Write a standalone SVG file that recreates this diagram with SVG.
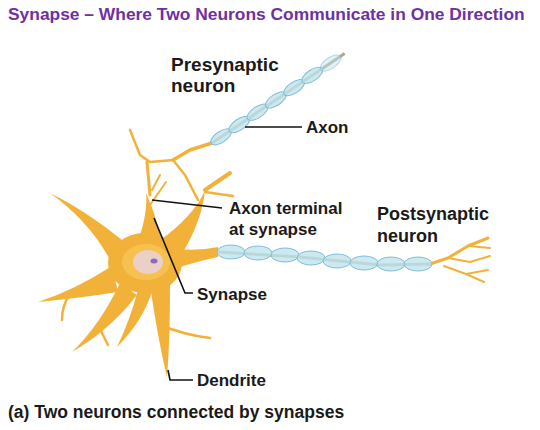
<svg xmlns="http://www.w3.org/2000/svg" width="540" height="430" viewBox="0 0 540 430">
<style>
.t{font-family:"Liberation Sans",Arial,sans-serif;font-weight:bold;fill:#1a1a1a;font-size:17px}
.d{fill:none;stroke:#F2B23A;stroke-linecap:round;stroke-linejoin:round}
.b{fill:#F2B23A}
.m{fill:#bfe3ef;fill-opacity:0.8;stroke:#7fbfd6;stroke-width:1}
.c{fill:none;stroke:#a9ab84;stroke-width:3}
.l{fill:none;stroke:#111;stroke-width:1.6}
</style>
<rect width="540" height="430" fill="#fff"/>
<text x="8" y="20" class="t" style="fill:#7030A0;font-size:17.4px">Synapse – Where Two Neurons Communicate in One Direction</text>
<g id="presynaptic">
<path class="d" stroke-width="3.5" d="M212,143 L190,150 L173,160"/>
<path class="d" stroke-width="2.5" d="M173,160 L150,162 L140,155 L130,130"/>
<path class="d" stroke-width="3" d="M147,162 L150,195"/>
<path class="d" stroke-width="2.5" d="M173,160 L185,175 L198,200"/>
<path class="d" stroke-width="2" d="M152,190 L160,175"/>
<g transform="translate(212,143) rotate(-34)">
<path class="c" d="M0,0 L160,0"/>
<ellipse class="m" cx="11" cy="0" rx="12" ry="5.5"/>
<ellipse class="m" cx="33" cy="0" rx="12" ry="5.5"/>
<ellipse class="m" cx="55" cy="0" rx="12" ry="5.5"/>
<ellipse class="m" cx="77" cy="0" rx="12" ry="5.5"/>
<ellipse class="m" cx="99" cy="0" rx="12" ry="5.5"/>
<ellipse class="m" cx="121" cy="0" rx="12" ry="5.5"/>
<ellipse class="m" cx="143" cy="0" rx="12" ry="5.5" opacity="0.6"/>
</g>
</g>
<g id="postsynaptic">
<path class="b" d="M122,240 Q85,210 50,193 Q90,222 110,260 Z"/>
<path class="b" d="M112,266 Q75,290 38,302 Q80,298 118,292 Z"/>
<path class="d" stroke-width="2.5" d="M70,294 Q62,305 62,320"/>
<path class="b" d="M120,283 Q100,325 72,352 Q110,330 137,295 Z"/>
<path class="d" stroke-width="2.5" d="M98,325 L108,345"/>
<path class="b" d="M138,290 Q130,320 117,347 Q142,322 152,292 Z"/>
<path class="b" d="M150,285 Q158,340 167,377 Q170,340 170,283 Z"/>
<path class="d" stroke-width="2.5" d="M160,325 Q185,335 210,338"/>
<path class="b" d="M138,242 Q148,212 146,193 Q156,215 162,242 Z"/>
<path class="d" stroke-width="2" d="M150,205 L166,182"/>
<path class="b" d="M158,242 Q195,215 205,190 Q202,222 180,257 Z"/>
<path class="d" stroke-width="4" d="M205,190 L230,173"/>
<path class="d" stroke-width="2.5" d="M205,192 L233,196"/>
<path class="b" d="M168,248 Q195,252 218,247 L218,257 Q195,262 170,270 Z"/>
<ellipse cx="145" cy="263" rx="37" ry="30" class="b"/>
<ellipse cx="146" cy="262" rx="24" ry="18" fill="#F7C455" opacity="0.8"/>
<ellipse cx="148" cy="262" rx="15" ry="12" fill="#ead0c6"/>
<ellipse cx="154" cy="261" rx="3.5" ry="2.5" fill="#8a6bbf"/>
<path class="d" stroke-width="3" d="M430,264 L448,258 L468,246 L488,238"/>
<path class="d" stroke-width="2" d="M448,258 L470,262 L490,256"/>
<path class="d" stroke-width="2" d="M444,266 L466,274 L488,270"/>
<path class="d" stroke-width="2" d="M468,246 L490,248"/>
<path class="d" stroke-width="2" d="M466,274 L484,282"/>
<path class="c" d="M218,252 L300,257 L380,265 L432,264"/>
<ellipse class="m" cx="231" cy="252" rx="14" ry="7"/>
<ellipse class="m" cx="258" cy="253" rx="14" ry="7"/>
<ellipse class="m" cx="285" cy="255" rx="14" ry="7"/>
<ellipse class="m" cx="311" cy="258" rx="14" ry="7"/>
<ellipse class="m" cx="337" cy="261" rx="14" ry="7"/>
<ellipse class="m" cx="364" cy="263" rx="14" ry="7"/>
<ellipse class="m" cx="391" cy="264" rx="14" ry="7"/>
<ellipse class="m" cx="418" cy="264" rx="14" ry="7"/>
</g>
<g id="connectors">
<path class="l" d="M245,127 L302,127"/>
<path class="l" d="M152,200 L222,208"/>
<path class="l" d="M154,218 L185,293 L193,293"/>
<path class="l" d="M168,370 L170,380 L193,380"/>
</g>
<g id="labels">
<text x="171" y="71" class="t" style="font-size:19px">Presynaptic</text>
<text x="171" y="92" class="t" style="font-size:19px">neuron</text>
<text x="306" y="133" class="t">Axon</text>
<text x="229" y="214" class="t">Axon terminal</text>
<text x="229" y="235" class="t">at synapse</text>
<text x="377" y="220" class="t" style="font-size:18px">Postsynaptic</text>
<text x="377" y="242" class="t" style="font-size:18px">neuron</text>
<text x="197" y="300" class="t">Synapse</text>
<text x="197" y="386" class="t">Dendrite</text>
<text x="8" y="418" class="t" style="font-size:17.5px">(a) Two neurons connected by synapses</text>
</g>
</svg>
